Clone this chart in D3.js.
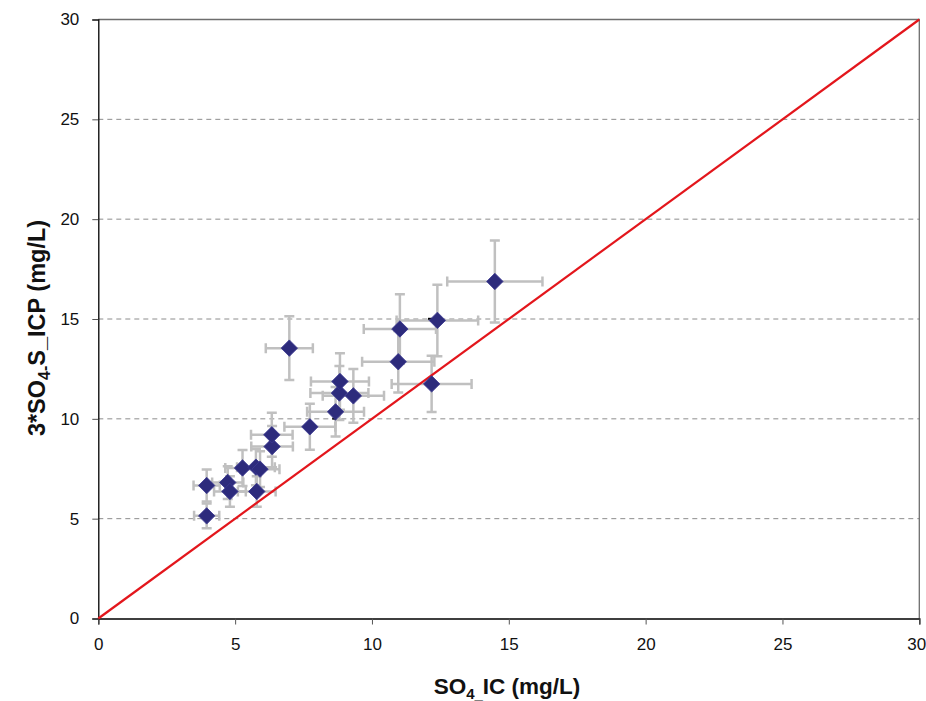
<!DOCTYPE html>
<html>
<head>
<meta charset="utf-8">
<script src="https://cdn.jsdelivr.net/npm/d3@7"></script>
<style>
  body { margin: 0; background: #fff; }
  svg { display: block; font-family: "Liberation Sans", Arial, sans-serif; }
</style>
</head>
<body>
<svg id="chart" width="926" height="701"></svg>
<script>
// values
var so4IC  = [3.96, 3.96, 4.73, 4.81, 5.27, 5.76, 5.91, 5.79, 6.35, 6.34, 7.73, 6.98, 8.67, 8.81, 8.83, 9.32, 10.96, 11.02, 12.39, 12.18, 14.49];
var so4ICP = [5.14, 6.66, 6.81, 6.36, 7.54, 7.58, 7.48, 6.36, 8.61, 9.2, 9.6, 13.54, 10.35, 11.29, 11.87, 11.15, 12.86, 14.5, 14.93, 11.75, 16.88];
var xErr   = [0.46, 0.48, 0.57, 0.58, 0.63, 0.69, 0.71, 0.69, 0.76, 0.76, 0.93, 0.86, 1.04, 1.06, 1.06, 1.12, 1.32, 1.32, 1.49, 1.46, 1.74];
var yErr   = [0.62, 0.8, 0.82, 0.76, 0.9, 0.91, 0.9, 0.76, 1.03, 1.1, 1.15, 1.6, 1.24, 1.35, 1.42, 1.34, 1.54, 1.74, 1.79, 1.41, 2.05];
var strayX = [8.62, 12.12];
var strayY = [10.01, 15.01];
var xTicks = [0, 5, 10, 15, 20, 25, 30];
var yTicks = [0, 5, 10, 15, 20, 25, 30];
var gridTicks = [5, 10, 15, 20, 25];
var oneToOne = [0, 30];

var svg = d3.select("#chart");
var pLeft = 98.3, pRight = 919.3, pTop = 19.5, pBottom = 618.5;

var x = d3.scaleLinear().domain([0, 30]).range([pLeft, pRight]);
var y = d3.scaleLinear().domain([0, 30]).range([pBottom, pTop]);

// dashed horizontal grid
svg.append("g").selectAll("line")
  .data(gridTicks)
  .enter().append("line")
  .attr("x1", pLeft).attr("x2", pRight)
  .attr("y1", function(d) { return y(d); })
  .attr("y2", function(d) { return y(d); })
  .attr("stroke", "#8c8c8c")
  .attr("stroke-width", 1)
  .attr("stroke-dasharray", "5,4");

// frame (top / right)
svg.append("path")
  .attr("d", "M" + pLeft + "," + pTop + "H" + pRight + "V" + pBottom)
  .attr("fill", "none")
  .attr("stroke", "#6e6e6e")
  .attr("stroke-width", 1.3);

// axes
var yAxis = d3.axisLeft(y).tickValues(yTicks).tickSize(6).tickPadding(13).tickFormat(d3.format("d"));
var xAxis = d3.axisBottom(x).tickValues(xTicks).tickSize(6).tickPadding(13.5).tickFormat(d3.format("d"));

var gy = svg.append("g").attr("transform", "translate(" + pLeft + ",0)").call(yAxis);
var gx = svg.append("g").attr("transform", "translate(0," + pBottom + ")").call(xAxis);
[gx, gy].forEach(function(g) {
    g.attr("font-size", 17).attr("font-family", "'Liberation Sans', Arial, sans-serif");
    g.select(".domain").attr("stroke", "#000").attr("stroke-width", 1.3);
    g.selectAll(".tick line").attr("stroke", "#555");
    g.selectAll("text").attr("fill", "#111");
});
// keep the last x label inside the window, as the reference does
gx.selectAll(".tick text").filter(function(d) { return d === 30; }).attr("dx", -3);

// error bars
var pts = so4IC.map(function(v, i) {
    return {x: v, y: so4ICP[i], ex: xErr[i], ey: yErr[i]};
});
var cap = 5;
var eb = svg.append("g").attr("stroke", "#c0c0c0").attr("stroke-width", 2.5).attr("fill", "none");
pts.forEach(function(d) {
    var cx = x(d.x), cy = y(d.y);
    var x0 = x(d.x - d.ex), x1 = x(d.x + d.ex);
    var y0 = y(d.y - d.ey), y1 = y(d.y + d.ey);
    eb.append("path").attr("d",
        "M" + x0 + "," + cy + "H" + x1 +
        "M" + x0 + "," + (cy - cap) + "V" + (cy + cap) +
        "M" + x1 + "," + (cy - cap) + "V" + (cy + cap) +
        "M" + cx + "," + y0 + "V" + y1 +
        "M" + (cx - cap) + "," + y0 + "H" + (cx + cap) +
        "M" + (cx - cap) + "," + y1 + "H" + (cx + cap));
});

// 1:1 line
svg.append("line")
  .attr("x1", x(oneToOne[0])).attr("y1", y(oneToOne[0]))
  .attr("x2", x(oneToOne[1])).attr("y2", y(oneToOne[1]))
  .attr("stroke", "#e3161c")
  .attr("stroke-width", 2.2);

// stray dash markers
svg.append("g").selectAll("line")
  .data(strayX)
  .enter().append("line")
  .attr("x1", function(d) { return x(d) - 2; })
  .attr("x2", function(d) { return x(d) + 2; })
  .attr("y1", function(d, i) { return y(strayY[i]); })
  .attr("y2", function(d, i) { return y(strayY[i]); })
  .attr("stroke", "#000").attr("stroke-width", 2);

// diamond markers
var sym = d3.symbol().type(d3.symbolSquare).size(135);
svg.append("g").selectAll("path")
  .data(pts)
  .enter().append("path")
  .attr("d", sym)
  .attr("transform", function(d) {
      return "translate(" + x(d.x) + "," + y(d.y) + ") rotate(45)";
  })
  .attr("fill", "#2d2b7c")
  .attr("stroke", "#3a3890")
  .attr("stroke-width", 0.8);

// axis titles
var xt = svg.append("text")
  .attr("x", 507).attr("y", 694)
  .attr("text-anchor", "middle")
  .attr("font-size", 22.5).attr("font-weight", "bold").attr("fill", "#111");
xt.append("tspan").text("SO");
xt.append("tspan").attr("font-size", 15).attr("dy", 5).text("4");
xt.append("tspan").attr("font-size", 15).text("_");
xt.append("tspan").attr("dy", -5).text("IC (mg/L)");

var yt = svg.append("text")
  .attr("transform", "translate(45,328) rotate(-90)")
  .attr("text-anchor", "middle")
  .attr("font-size", 23.5).attr("font-weight", "bold").attr("fill", "#111");
yt.append("tspan").text("3*SO");
yt.append("tspan").attr("font-size", 16).attr("dy", 5).text("4-");
yt.append("tspan").attr("dy", -5).text("S_ICP (mg/L)");
</script>
</body>
</html>
